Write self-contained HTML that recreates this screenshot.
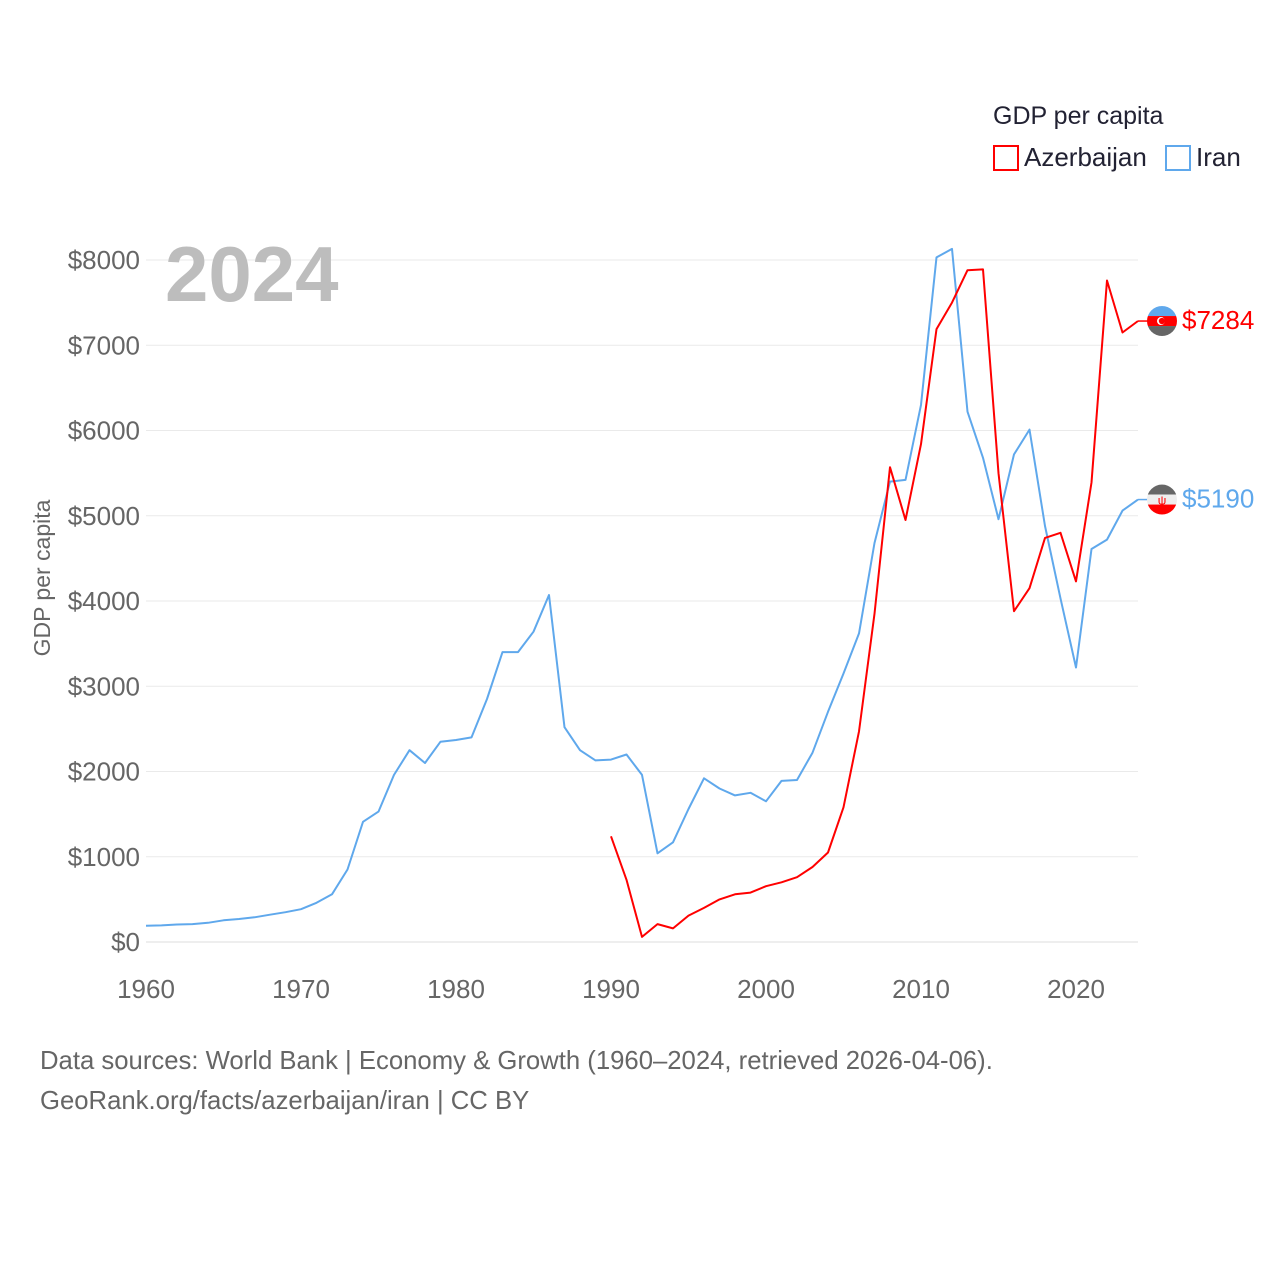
<!DOCTYPE html>
<html><head><meta charset="utf-8"><style>
body{margin:0;background:#fff}
svg{display:block;font-family:"Liberation Sans",sans-serif}
</style></head><body>
<svg id="chart" width="1280" height="1280" viewBox="0 0 1280 1280">
<g id="grid"></g>
<g id="yt"></g>
<g id="xt"></g>
<text x="165" y="301" font-size="78" font-weight="bold" fill="#bdbdbd">2024</text>
<text transform="translate(50,578) rotate(-90)" text-anchor="middle" font-size="23" fill="#666">GDP per capita</text>
<g>
<text x="993" y="124" font-size="25" fill="#223">GDP per capita</text>
<g><rect x="994" y="146" width="24" height="24" fill="none" stroke="#f00" stroke-width="2"/><text x="1024" y="166" font-size="26" fill="#223">Azerbaijan</text></g>
<g><rect x="1166" y="146" width="24" height="24" fill="none" stroke="#5fa8ec" stroke-width="2"/><text x="1196" y="166" font-size="26" fill="#223">Iran</text></g>
</g>
<g id="lines"></g>
<g id="ends"></g>
<text x="40" y="1069" font-size="25.7" fill="#666">Data sources: World Bank | Economy &amp; Growth (1960–2024, retrieved 2026-04-06).</text>
<text x="40" y="1109" font-size="25.7" fill="#666">GeoRank.org/facts/azerbaijan/iran | CC BY</text>
</svg>
<script>
const iranStart = 1960;
const iranValues = [190,195,205,210,225,255,270,290,320,350,385,460,560,850,1410,1530,1960,2250,2100,2350,2370,2400,2850,3400,3400,3640,4070,2520,2250,2130,2140,2200,1960,1040,1170,1560,1920,1800,1720,1750,1650,1890,1900,2220,2700,3150,3620,4680,5400,5420,6300,8030,8130,6220,5680,4960,5720,6010,4880,4030,3220,4610,4720,5060,5190];
const azeStart = 1990;
const azeValues = [1240,730,60,210,160,310,400,500,560,580,655,700,760,880,1050,1580,2470,3850,5570,4950,5840,7190,7500,7880,7890,5500,3880,4150,4740,4800,4230,5390,7760,7150,7284];
const yTicks = [0,1000,2000,3000,4000,5000,6000,7000,8000];
const xTicks = [1960,1970,1980,1990,2000,2010,2020];
const NS='http://www.w3.org/2000/svg';
const x = yr => 146 + (yr-1960)*15.5;
const y = v => 942 - v*0.08525;
function mk(tag, attrs, parent){const e=document.createElementNS(NS,tag);for(const k in attrs)e.setAttribute(k,attrs[k]);document.getElementById(parent).appendChild(e);return e;}
yTicks.forEach(t=>{
  const l=mk('line',{x1:146,x2:1138,y1:y(t),y2:y(t),stroke:t===0?'#ddd':'#eaeaea','stroke-width':1},'grid');
  
  
  const tx=mk('text',{x:140,y:y(t)+9,'text-anchor':'end','font-size':26,fill:'#666'},'yt');
  tx.textContent='$'+t;
  
  
});
xTicks.forEach(t=>{
  const tx=mk('text',{x:x(t),y:998,'text-anchor':'middle','font-size':26,fill:'#666'},'xt');
  tx.textContent=t;
  
  
});
function line(vals,start,color,name){
  const d=vals.map((v,i)=>(i?'L':'M')+x(start+i).toFixed(1)+','+y(v).toFixed(1)).join('');
  const p=mk('path',{d:d,fill:'none',stroke:color,'stroke-width':2,'stroke-linejoin':'round'},'lines');
  
  
}
line(iranValues,iranStart,'#5fa8ec','iran-line');
line(azeValues,azeStart,'#f00','azerbaijan-line');
function endLabel(v,color,name,flag){
  const yy=y(v);
  mk('line',{x1:1138,x2:1148,y1:yy,y2:yy,stroke:color,'stroke-width':1.5},'ends');
  const g=mk('g',{},'ends');
  
  
  const cx=1162;
  if(flag==='aze'){
    g.innerHTML=`<clipPath id="ca"><circle cx="${cx}" cy="${yy}" r="15"/></clipPath><g clip-path="url(#ca)"><rect x="${cx-15}" y="${yy-15}" width="30" height="10" fill="#5fa8ec"/><rect x="${cx-15}" y="${yy-5}" width="30" height="10" fill="#f00"/><rect x="${cx-15}" y="${yy+5}" width="30" height="10" fill="#666"/><circle cx="${cx-1}" cy="${yy}" r="4" fill="#fff"/><circle cx="${cx}" cy="${yy}" r="3.2" fill="#f00"/></g>`;
  } else {
    g.innerHTML=`<clipPath id="ci"><circle cx="${cx}" cy="${yy}" r="15"/></clipPath><g clip-path="url(#ci)"><rect x="${cx-15}" y="${yy-15}" width="30" height="10" fill="#666"/><rect x="${cx-15}" y="${yy-5}" width="30" height="10" fill="#eee"/><rect x="${cx-15}" y="${yy+5}" width="30" height="10" fill="#f00"/><text x="${cx}" y="${yy+5}" text-anchor="middle" font-size="12" fill="#f00">ψ</text></g>`;
  }
  const t=mk('text',{x:1182,y:yy+8,'font-size':26,fill:color},'ends');
  t.textContent='$'+v;
  
  
}
endLabel(azeValues[azeValues.length-1],'#f00','azerbaijan','aze');
endLabel(iranValues[iranValues.length-1],'#5fa8ec','iran','iran');
</script>
</body></html>
